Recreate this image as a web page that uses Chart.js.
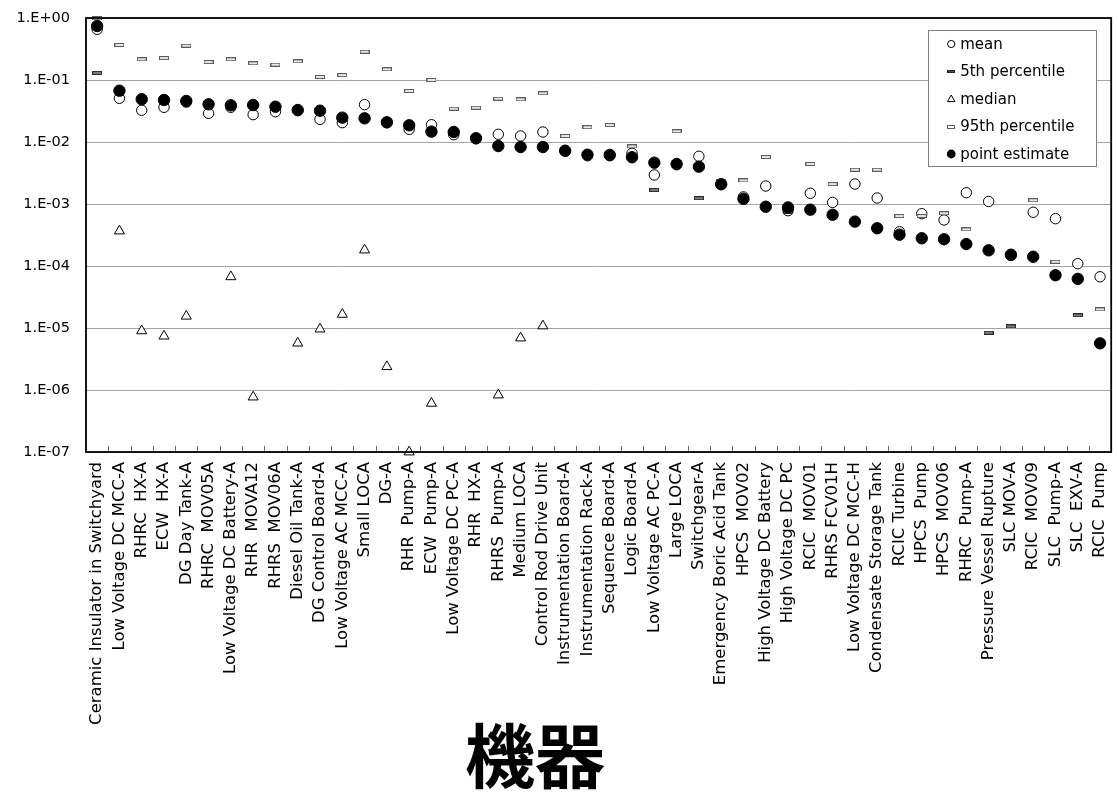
<!DOCTYPE html>
<html>
<head>
<meta charset="utf-8">
<title>機器</title>
<script src="https://cdn.jsdelivr.net/npm/chart.js@4.4.1/dist/chart.umd.min.js"></script>
<style>
  html, body { margin: 0; padding: 0; background: #ffffff; }
  #wrap { width: 1118px; height: 792px; position: relative; }
</style>
</head>
<body>
<div id="wrap"><canvas id="chart" width="1118" height="792"></canvas></div>
<script>
// Components, ordered by point estimate
const categories = [
  'Ceramic Insulator in Switchyard', 'Low Voltage DC MCC-A', 'RHRC  HX-A', 'ECW  HX-A',
  'DG Day Tank-A', 'RHRC  MOV05A', 'Low Voltage DC Battery-A', 'RHR  MOVA12',
  'RHRS  MOV06A', 'Diesel Oil Tank-A', 'DG Control Board-A', 'Low Voltage AC MCC-A',
  'Small LOCA', 'DG-A', 'RHR  Pump-A', 'ECW  Pump-A', 'Low Voltage DC PC-A', 'RHR  HX-A',
  'RHRS  Pump-A', 'Medium LOCA', 'Control Rod Drive Unit', 'Instrumentation Board-A',
  'Instrumentation Rack-A', 'Sequence Board-A', 'Logic Board-A', 'Low Voltage AC PC-A',
  'Large LOCA', 'Switchgear-A', 'Emergency Boric Acid Tank', 'HPCS  MOV02',
  'High Voltage DC Battery', 'High Voltage DC PC', 'RCIC  MOV01', 'RHRS FCV01H',
  'Low Voltage DC MCC-H', 'Condensate Storage Tank', 'RCIC Turbine', 'HPCS  Pump',
  'HPCS  MOV06', 'RHRC  Pump-A', 'Pressure Vessel Rupture', 'SLC MOV-A', 'RCIC  MOV09',
  'SLC  Pump-A', 'SLC  EXV-A', 'RCIC  Pump'
];

const meanValues = [
  0.657, 0.0507, 0.0325, 0.0363, 0.044, 0.029, 0.0363, 0.0276, 0.0308, 0.032,
  0.0232, 0.0205, 0.040, 0.0205, 0.016, 0.019, 0.0131, 0.0113, 0.0133, 0.0125,
  0.0145, 0.0071, 0.0060, 0.0060, 0.00657, 0.00294, 0.0043, 0.00588, 0.0021, 0.0013,
  0.00195, 0.00078, 0.00149, 0.00106, 0.0021, 0.00125, 0.000357, 0.000698, 0.000552, 0.00152,
  0.0011, 0.000148, 0.000735, 0.00058, 0.000109, 0.000067
];

const p05Values = [
  0.130, null, null, null, null, null, null, null, null, null,
  null, null, null, null, null, null, null, null, null, null,
  null, null, null, null, null, 0.00168, null, 0.00124, null, null,
  null, 0.00075, null, null, null, null, null, null, null, null,
  0.0000084, 0.0000106, null, null, 0.000016, null
];

const medianValues = [
  null, 0.000367, 0.0000090, 0.0000074, 0.0000155, null, 0.000067, 0.00000077, null, 0.0000057,
  0.0000096, 0.0000166, 0.000181, 0.00000238, 0.00000010, 0.00000061, null, null, 0.00000083, 0.0000069,
  0.0000108, null, null, null, null, null, null, null, null, null,
  null, null, null, null, null, null, null, null, null, null,
  null, null, null, null, null, null
];

const p95Values = [
  0.99, 0.367, 0.216, 0.226, 0.357, 0.195, 0.216, 0.186, 0.177, 0.200,
  0.112, 0.120, 0.286, 0.149, 0.0665, 0.100, 0.0344, 0.0357, 0.0499, 0.0488,
  0.061, 0.0125, 0.0173, 0.0188, 0.0085, null, 0.0149, null, 0.00238, 0.0024,
  0.00573, null, 0.00442, 0.0021, 0.00357, 0.00357, 0.00064, 0.00064, 0.000708, 0.00039,
  null, null, 0.00115, 0.000117, null, 0.000020
];

const pointEstimates = [
  0.743, 0.0672, 0.0489, 0.0476, 0.0459, 0.0406, 0.0391, 0.0395, 0.0371, 0.0328,
  0.032, 0.0247, 0.0241, 0.0208, 0.0186, 0.0147, 0.0145, 0.0115, 0.0086, 0.0083,
  0.0083, 0.00724, 0.00624, 0.0062, 0.00567, 0.00464, 0.00442, 0.0040, 0.00208, 0.00121,
  0.000904, 0.00088, 0.00081, 0.00067, 0.00052, 0.000406, 0.00032, 0.00028, 0.00027, 0.000226,
  0.000179, 0.000152, 0.000141, 0.000071, 0.000062, 0.00000566
];

const yTickValues = [1, 1e-1, 1e-2, 1e-3, 1e-4, 1e-5, 1e-6, 1e-7];
const yTickLabels = ['1.E+00', '1.E-01', '1.E-02', '1.E-03', '1.E-04', '1.E-05', '1.E-06', '1.E-07'];

const seriesNames = ['mean', '5th percentile', 'median', '95th percentile', 'point estimate'];
const axisTitle = '機器';

const LATIN = '"DejaVu Sans", "Liberation Sans", sans-serif';
const CJK = '"Noto Sans CJK JP", "Noto Sans CJK SC", sans-serif';

// Small bar-shaped markers for the percentile series
function makeDash(w, h, fill, edge) {
  const c = document.createElement('canvas');
  c.width = w; c.height = h;
  const g = c.getContext('2d');
  g.fillStyle = edge; g.fillRect(0, 0, w, h);
  g.fillStyle = fill; g.fillRect(1, 1, w - 2, h - 2);
  return c;
}
const dash05 = makeDash(10, 4, '#7c7c7c', '#2c2c2c');
const dash95 = makeDash(10, 4, '#e6e6e6', '#5c5c5c');
const dash05Small = makeDash(8, 3, '#505050', '#202020');
const dash95Small = makeDash(8, 4, '#ffffff', '#606060');

function markerSet(style, radius, fill, edge) {
  return {
    pointStyle: style, pointRadius: radius, pointHoverRadius: radius,
    pointBackgroundColor: fill, pointBorderColor: edge, pointBorderWidth: 1,
    backgroundColor: fill, borderColor: edge
  };
}

const datasets = [
  Object.assign({ label: seriesNames[0], data: meanValues, order: 5 }, markerSet('circle', 5.2, '#ffffff', '#000000')),
  Object.assign({ label: seriesNames[1], data: p05Values, order: 4 }, markerSet(dash05, 5, '#7c7c7c', '#2c2c2c')),
  Object.assign({ label: seriesNames[2], data: medianValues, order: 3 }, markerSet('triangle', 5.8, '#ffffff', '#000000')),
  Object.assign({ label: seriesNames[3], data: p95Values, order: 2 }, markerSet(dash95, 5, '#e6e6e6', '#5c5c5c')),
  Object.assign({ label: seriesNames[4], data: pointEstimates, order: 1 }, markerSet('circle', 5.7, '#000000', '#000000'))
].map(d => Object.assign(d, { showLine: false, clip: false }));

// Plot frame and inward category ticks
const framePlugin = {
  id: 'plotFrame',
  afterDatasetsDraw(chart) {
    const { ctx, chartArea: a, scales } = chart;
    ctx.save();
    ctx.strokeStyle = '#6a6a6a';
    ctx.lineWidth = 1;
    for (let i = 1; i < categories.length; i++) {
      const x = Math.round(scales.x.getPixelForValue(i - 0.5)) + 0.5;
      ctx.beginPath();
      ctx.moveTo(x, a.bottom);
      ctx.lineTo(x, a.bottom - 6);
      ctx.stroke();
    }
    ctx.strokeStyle = '#000000';
    ctx.lineWidth = 1.8;
    ctx.strokeRect(a.left, a.top, a.right - a.left, a.bottom - a.top);
    ctx.restore();
  }
};

// Boxed legend inside the plot area, plus the category axis title
const legendPlugin = {
  id: 'boxLegend',
  afterDraw(chart) {
    const { ctx, chartArea: a } = chart;
    const boxW = 168, boxH = 136;
    const bx = a.right - 15 - boxW, by = a.top + 12;
    ctx.save();
    ctx.fillStyle = '#ffffff';
    ctx.fillRect(bx, by, boxW, boxH);
    ctx.strokeStyle = '#808080';
    ctx.lineWidth = 1;
    ctx.strokeRect(Math.round(bx) + 0.5, Math.round(by) + 0.5, boxW, boxH);

    const mx = bx + 23, tx = bx + 32;
    ctx.font = '15px ' + LATIN;
    ctx.textBaseline = 'middle';
    ctx.textAlign = 'left';
    seriesNames.forEach((name, i) => {
      const y = by + 14 + i * 27.5;
      ctx.lineWidth = 1;
      if (i === 0) {
        ctx.beginPath(); ctx.arc(mx, y, 3.6, 0, Math.PI * 2);
        ctx.fillStyle = '#fff'; ctx.fill(); ctx.strokeStyle = '#000'; ctx.stroke();
      } else if (i === 1) {
        ctx.drawImage(dash05Small, Math.round(mx - 4), Math.round(y - 1.5));
      } else if (i === 2) {
        ctx.beginPath();
        ctx.moveTo(mx, y - 4); ctx.lineTo(mx + 3.8, y + 2.6); ctx.lineTo(mx - 3.8, y + 2.6); ctx.closePath();
        ctx.fillStyle = '#fff'; ctx.fill(); ctx.strokeStyle = '#000'; ctx.stroke();
      } else if (i === 3) {
        ctx.drawImage(dash95Small, Math.round(mx - 4), Math.round(y - 2));
      } else {
        ctx.beginPath(); ctx.arc(mx, y, 4.4, 0, Math.PI * 2);
        ctx.fillStyle = '#000'; ctx.fill();
      }
      ctx.fillStyle = '#000';
      ctx.fillText(name, tx, y + 1);
    });

    ctx.font = 'bold 70px ' + CJK;
    ctx.textAlign = 'center';
    ctx.textBaseline = 'middle';
    ctx.fillStyle = '#000';
    ctx.fillText(axisTitle, a.left + 449, 756);
    ctx.restore();
  }
};

new Chart(document.getElementById('chart'), {
  type: 'line',
  data: { labels: categories, datasets },
  options: {
    responsive: false,
    animation: false,
    devicePixelRatio: 1,
    layout: { padding: { left: 0, top: 18, right: 1, bottom: 0 } },
    plugins: {
      legend: { display: false },
      tooltip: { enabled: false },
      title: { display: false }
    },
    scales: {
      x: {
        type: 'category',
        offset: true,
        grid: { display: false, drawTicks: false },
        border: { display: false },
        ticks: {
          autoSkip: false,
          minRotation: 90,
          maxRotation: 90,
          padding: 10,
          color: '#000000',
          font: { family: LATIN, size: 16.5 }
        },
        afterFit(scale) {
          scale.height = 340;
          scale.paddingLeft = 0; scale.paddingRight = 0;
          scale.paddingTop = 0; scale.paddingBottom = 0;
        }
      },
      y: {
        type: 'logarithmic',
        min: 1e-7,
        max: 1,
        grid: { color: '#a4a4a4', lineWidth: 1, drawTicks: false },
        border: { display: false },
        ticks: {
          autoSkip: false,
          padding: 16,
          color: '#000000',
          font: { family: LATIN, size: 14.5 },
          callback(value) {
            const i = yTickValues.indexOf(value);
            return i >= 0 ? yTickLabels[i] : '';
          }
        },
        afterBuildTicks(scale) {
          scale.ticks = yTickValues.map(v => ({ value: v }));
        },
        afterFit(scale) {
          scale.width = 86;
          scale.paddingLeft = 0; scale.paddingRight = 0;
          scale.paddingTop = 0; scale.paddingBottom = 0;
        }
      }
    }
  },
  plugins: [framePlugin, legendPlugin]
});
</script>
</body>
</html>
